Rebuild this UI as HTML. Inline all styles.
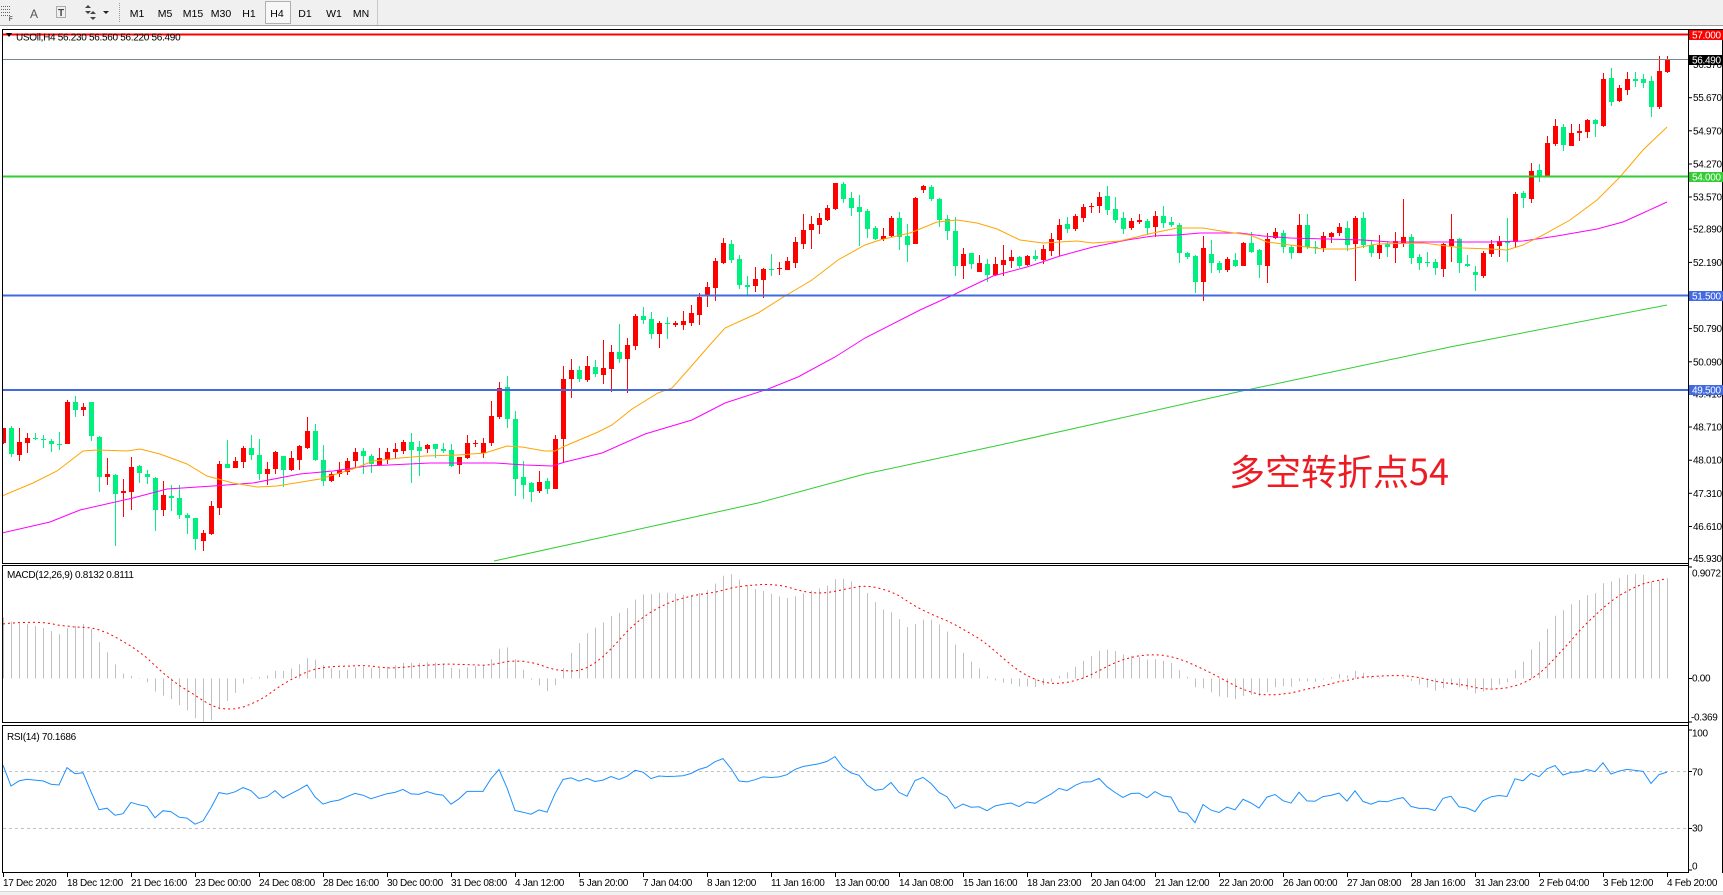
<!DOCTYPE html>
<html><head><meta charset="utf-8">
<style>
html,body{margin:0;padding:0;background:#fff;width:1723px;height:895px;overflow:hidden}
svg{display:block}
text{font-family:"Liberation Sans",Arial,sans-serif;font-size:10px;fill:#000}
.a{letter-spacing:-0.3px}
.w{fill:#fff;letter-spacing:-0.3px}
.tb{font-size:10.5px;text-anchor:middle}
</style></head><body>
<svg id="s" width="1723" height="895" viewBox="0 0 1723 895" xmlns="http://www.w3.org/2000/svg">
<defs>
<clipPath id="cm"><rect x="3" y="30" width="1685" height="533"/></clipPath>
<clipPath id="cd"><rect x="3" y="566" width="1685" height="156"/></clipPath>
<clipPath id="cr"><rect x="3" y="726" width="1685" height="146"/></clipPath>
</defs>
<!-- toolbar -->
<rect x="0" y="0" width="1723" height="25" fill="#f0f0f0"/>
<line x1="0" y1="25.5" x2="1723" y2="25.5" stroke="#a0a0a0"/>
<g stroke="#666" stroke-dasharray="1,1">
<line x1="1" y1="6.5" x2="11" y2="6.5"/><line x1="1" y1="9.5" x2="11" y2="9.5"/><line x1="1" y1="12.5" x2="11" y2="12.5"/><line x1="1" y1="15.5" x2="11" y2="15.5"/>
</g>
<text x="9" y="21" style="font-size:6px">F</text>
<text x="34" y="18" style="font-size:12px;fill:#555;text-anchor:middle">A</text>
<rect x="56.5" y="6.5" width="9" height="11" fill="none" stroke="#666" stroke-dasharray="1,1"/>
<text x="61" y="16" style="font-size:10px;text-anchor:middle;font-weight:bold;fill:#444">T</text>
<polygon points="85,8 88,5 91,8" fill="#444"/><polygon points="85,11 88,14 91,11" fill="#444"/>
<polygon points="90,14 93,11 96,14" fill="#444"/><polygon points="90,17 93,20 96,17" fill="#444"/>
<polygon points="103,11 109,11 106,14" fill="#222"/>
<line x1="119.5" y1="3" x2="119.5" y2="22" stroke="#999" stroke-dasharray="1,1"/>
<rect x="265.5" y="1.5" width="25" height="22" fill="#f7f7f7" stroke="#b0b0b0"/>
<text class="tb" x="137" y="17">M1</text>
<text class="tb" x="165" y="17">M5</text>
<text class="tb" x="193" y="17">M15</text>
<text class="tb" x="221" y="17">M30</text>
<text class="tb" x="249" y="17">H1</text>
<text class="tb" x="277" y="17">H4</text>
<text class="tb" x="305" y="17">D1</text>
<text class="tb" x="334" y="17">W1</text>
<text class="tb" x="361" y="17">MN</text>
<line x1="377.5" y1="0" x2="377.5" y2="25" stroke="#c8c8c8"/>

<!-- panel frames -->
<rect x="2.5" y="29.5" width="1686" height="534" fill="none" stroke="#000"/>
<rect x="2.5" y="565.5" width="1686" height="157" fill="none" stroke="#000"/>
<rect x="2.5" y="725.5" width="1686" height="147" fill="none" stroke="#000"/>
<line x1="1688.5" y1="29" x2="1688.5" y2="873" stroke="#000"/>
<line x1="1688" y1="29.5" x2="1723" y2="29.5" stroke="#000"/>
<line x1="1722.5" y1="29" x2="1722.5" y2="873" stroke="#000"/>

<g id="main" clip-path="url(#cm)"></g>
<g id="macd" clip-path="url(#cd)"></g>
<g id="rsi" clip-path="url(#cr)">
<line x1="3" y1="771.5" x2="1688" y2="771.5" stroke="#c0c0c0" stroke-dasharray="3,3"/>
<line x1="3" y1="828.5" x2="1688" y2="828.5" stroke="#c0c0c0" stroke-dasharray="3,3"/>
</g>

<!-- horizontal lines -->
<line x1="3" y1="34.5" x2="1688" y2="34.5" stroke="#ff0000" stroke-width="2"/>
<line x1="3" y1="59.5" x2="1688" y2="59.5" stroke="#778899" stroke-width="1"/>
<line x1="3" y1="176.5" x2="1688" y2="176.5" stroke="#32cd32" stroke-width="2"/>
<line x1="3" y1="295.5" x2="1688" y2="295.5" stroke="#4169e1" stroke-width="2"/>
<line x1="3" y1="390" x2="1688" y2="390" stroke="#4169e1" stroke-width="2"/>

<!-- titles -->
<polygon points="6,33 12,33 9,37" fill="#000"/>
<text class="a" x="16" y="40.5">USOil,H4  56.230 56.560 56.220 56.490</text>
<text class="a" x="7" y="578">MACD(12,26,9) 0.8132 0.8111</text>
<text class="a" x="7" y="740">RSI(14) 70.1686</text>

<text x="1229" y="485" style="font-family:'Noto Sans CJK SC','WenQuanYi Zen Hei',sans-serif;font-size:36px;fill:#ed1c24">多空转折点54</text>

<!-- right axis ticks -->
<g stroke="#000" id="ticks"></g>
<g class="a">
<text class="a" x="1693" y="68">56.370</text>
<text class="a" x="1693" y="101.2">55.670</text>
<text class="a" x="1693" y="134.3">54.970</text>
<text class="a" x="1693" y="167.5">54.270</text>
<text class="a" x="1693" y="200.5">53.570</text>
<text class="a" x="1693" y="232.7">52.890</text>
<text class="a" x="1693" y="265.9">52.190</text>
<text class="a" x="1693" y="332.1">50.790</text>
<text class="a" x="1693" y="365.3">50.090</text>
<text class="a" x="1693" y="397.5">49.410</text>
<text class="a" x="1693" y="430.5">48.710</text>
<text class="a" x="1693" y="463.7">48.010</text>
<text class="a" x="1693" y="496.8">47.310</text>
<text class="a" x="1693" y="530">46.610</text>
<text class="a" x="1693" y="562.2">45.930</text>
<text class="a" x="1692" y="576.5">0.9072</text>
<text class="a" x="1692" y="681.5">0.00</text>
<text class="a" x="1691" y="720.5">-0.369</text>
<text class="a" x="1692" y="736.5">100</text>
<text class="a" x="1692" y="775.5">70</text>
<text class="a" x="1692" y="831.5">30</text>
<text class="a" x="1692" y="869.5">0</text>
</g>
<!-- tags -->
<rect x="1689" y="30" width="34" height="10" fill="#ff0000"/>
<text class="w" x="1692" y="38.5">57.000</text>
<rect x="1689" y="55" width="34" height="10" fill="#000"/>
<text class="w" x="1692" y="63.5">56.490</text>
<rect x="1689" y="172" width="34" height="10" fill="#32cd32"/>
<text class="w" x="1692" y="180.5">54.000</text>
<rect x="1689" y="291" width="34" height="10" fill="#4169e1"/>
<text class="w" x="1692" y="299.5">51.500</text>
<rect x="1689" y="385" width="34" height="10" fill="#4169e1"/>
<text class="w" x="1692" y="393.5">49.500</text>

<!-- x axis -->
<g id="xt" stroke="#000"></g>
<g>
<text class="a" x="3" y="886">17 Dec 2020</text>
<text class="a" x="67" y="886">18 Dec 12:00</text>
<text class="a" x="131" y="886">21 Dec 16:00</text>
<text class="a" x="195" y="886">23 Dec 00:00</text>
<text class="a" x="259" y="886">24 Dec 08:00</text>
<text class="a" x="323" y="886">28 Dec 16:00</text>
<text class="a" x="387" y="886">30 Dec 00:00</text>
<text class="a" x="451" y="886">31 Dec 08:00</text>
<text class="a" x="515" y="886">4 Jan 12:00</text>
<text class="a" x="579" y="886">5 Jan 20:00</text>
<text class="a" x="643" y="886">7 Jan 04:00</text>
<text class="a" x="707" y="886">8 Jan 12:00</text>
<text class="a" x="771" y="886">11 Jan 16:00</text>
<text class="a" x="835" y="886">13 Jan 00:00</text>
<text class="a" x="899" y="886">14 Jan 08:00</text>
<text class="a" x="963" y="886">15 Jan 16:00</text>
<text class="a" x="1027" y="886">18 Jan 23:00</text>
<text class="a" x="1091" y="886">20 Jan 04:00</text>
<text class="a" x="1155" y="886">21 Jan 12:00</text>
<text class="a" x="1219" y="886">22 Jan 20:00</text>
<text class="a" x="1283" y="886">26 Jan 00:00</text>
<text class="a" x="1347" y="886">27 Jan 08:00</text>
<text class="a" x="1411" y="886">28 Jan 16:00</text>
<text class="a" x="1475" y="886">31 Jan 23:00</text>
<text class="a" x="1539" y="886">2 Feb 04:00</text>
<text class="a" x="1603" y="886">3 Feb 12:00</text>
<text class="a" x="1667" y="886">4 Feb 20:00</text>
</g>
<rect x="0" y="892" width="1723" height="3" fill="#f0f0f0"/>
<line x1="0" y1="891.5" x2="1723" y2="891.5" stroke="#d8d8d8"/>
</svg>
<script>
(function(){
var NS="http://www.w3.org/2000/svg";
function el(p,t,a){var e=document.createElementNS(NS,t);for(var k in a)e.setAttribute(k,a[k]);p.appendChild(e);return e;}
var D=[
[1,428,443,428,444],[0,428,454,426,457],[1,442,455,428,461],[1,438,443,433,453],[0,438,439,433,440],[0,439,440,435,448],[0,441,444,439,452],[0,444,445,432,450],[1,402,444,400,444],[0,402,410,396,417],
[1,407,410,403,416],[0,402,436,402,441],[0,437,477,436,492],[1,474,477,458,485],[0,475,494,474,546],[1,491,493,479,517],[1,467,492,457,510],[0,466,473,465,483],[0,474,477,470,484],[0,478,510,477,531],
[1,495,510,481,516],[0,496,498,485,511],[0,498,515,485,519],[0,515,518,513,534],[0,518,539,518,550],[1,533,541,530,551],[1,506,534,501,535],[1,464,508,461,515],[0,464,468,440,468],[1,461,468,457,468],
[1,448,462,446,468],[0,448,455,435,460],[0,455,474,439,480],[1,469,474,462,485],[1,452,469,451,474],[0,456,470,456,487],[1,458,470,451,471],[1,446,460,445,470],[1,431,448,417,449],[0,431,460,424,461],
[0,460,481,445,486],[1,474,481,472,482],[1,470,474,462,477],[1,461,472,458,475],[1,452,461,448,468],[0,451,456,448,474],[0,456,464,454,473],[1,458,465,448,466],[1,452,460,448,464],[1,449,452,443,458],
[1,442,451,440,454],[0,442,450,433,483],[0,447,451,441,476],[1,445,449,444,453],
[0,444,449,444,458],[0,449,451,443,453],[0,450,466,444,467],[1,457,465,457,474],[1,443,458,435,459],[1,443,444,440,447],
[1,443,453,438,458],[1,416,443,401,446],[1,388,417,382,419],[0,387,419,376,428],[0,419,479,411,496],[0,477,485,461,499],[0,483,492,482,502],[1,482,491,471,493],[0,481,489,478,494],[1,439,489,435,489],
[1,379,439,366,463],[1,370,379,359,398],[0,370,379,366,382],[1,366,380,356,382],[0,367,374,360,377],[1,368,375,340,384],[1,352,369,345,392],[0,352,359,324,363],[1,345,359,338,393],[1,316,346,314,350],
[0,316,320,307,324],[0,319,334,312,339],[1,323,334,321,348],[0,323,324,317,339],[1,323,325,321,327],[1,321,325,311,330],[1,313,323,305,326],[1,297,315,293,325],[1,287,296,282,307],[1,261,288,258,301],
[1,243,263,238,264],[0,244,260,240,263],[0,259,285,255,289],[0,285,287,276,295],[1,279,286,267,292],[1,269,280,268,298],[0,269,270,254,276],[1,268,269,262,275],[1,261,270,257,270],[1,242,263,237,268],
[1,230,244,214,249],[1,224,230,216,249],[1,218,225,213,234],[1,208,220,205,221],[1,183,209,183,210],[0,184,199,182,203],[0,198,208,192,216],[0,207,212,195,246],
[0,211,229,209,238],[0,228,239,226,240],[1,236,239,228,241],[1,218,236,216,237],[0,218,237,212,250],[0,236,245,224,262],[1,198,244,197,244],[1,186,190,185,193],[0,187,199,185,201],[0,199,220,198,227],
[0,219,231,215,240],[0,231,266,217,276],[1,254,266,248,279],[0,253,264,253,269],[1,263,272,255,272],[0,264,275,259,282],[1,264,275,257,276],[1,260,265,245,276],[1,257,261,250,268],[0,257,266,256,268],
[1,256,265,255,266],[0,256,259,250,261],[1,249,260,245,264],[1,239,251,233,256],[1,225,240,219,256],[0,224,229,217,233],[1,216,229,214,231],[1,207,218,204,222],[1,206,207,203,213],[1,197,206,192,213],
[0,196,210,186,215],[0,209,220,197,223],[0,218,229,212,234],[1,221,228,218,230],[1,220,222,214,224],[0,221,228,219,235],[1,216,227,211,237],[0,216,223,206,228],[0,222,225,217,227],[0,225,253,223,263],
[0,253,257,252,259],[0,256,282,255,293],[1,248,282,236,301],[0,254,263,240,273],[0,263,270,261,273],[1,259,270,257,272],[0,260,266,253,267],[1,243,266,242,266],[0,243,252,232,253],[0,250,265,249,278],
[1,239,266,233,283],[1,232,238,228,239],[0,233,247,230,253],[0,247,253,245,259],
[1,225,253,214,253],[0,225,247,214,249],[0,247,248,241,254],[1,236,248,232,252],[1,233,237,232,243],[1,227,233,223,236],
[0,228,245,221,251],[1,218,244,216,281],[0,218,245,212,248],[0,245,253,240,257],[1,245,253,235,259],[0,244,247,241,257],[1,241,248,232,263],[1,237,243,199,247],[0,237,258,234,264],[0,257,263,254,270],
[0,262,263,252,267],[0,262,268,259,275],[1,244,269,243,277],[1,239,246,214,262],[0,239,263,238,273],[0,264,266,255,267],[0,272,275,266,291],[1,253,276,251,278],[1,244,254,240,257],[1,241,246,236,257],
[0,241,243,218,262],[1,194,242,192,248],[0,193,198,191,208],[1,171,199,163,203],[0,170,177,164,182],[1,143,177,136,177],[1,126,144,119,146],[0,127,145,124,151],[1,133,146,124,146],[1,131,133,124,141],
[1,120,132,119,138],[0,120,124,119,137],[1,79,126,73,127],[0,78,102,68,106],[1,88,101,85,102],[1,79,90,72,95],[0,79,81,72,87],[0,79,83,74,88],[0,81,107,76,117],[1,71,107,56,109],
[1,59,72,56,73]
];
var X=function(i){return 3+8*i;};
var m=document.getElementById('main');
// MAs
function pl(g,pts,col,extra){var a={points:pts,fill:'none',stroke:col,'stroke-width':1};for(var k in extra)a[k]=extra[k];el(g,'polyline',a);}
var mg=document.createElementNS(NS,'g');
// candles
for(var i=0;i<D.length;i++){
 var d=D[i],x=X(i),c=d[0]?'#ff0000':'#00f080';
 el(m,'rect',{x:x,y:d[3],width:1,height:Math.max(1,d[4]-d[3]),fill:c});
 el(m,'rect',{x:x-2,y:d[1],width:5,height:Math.max(1,d[2]-d[1]),fill:c});
}
pl(m,"494,561 658,525 758,503 865,474 1000,445 1242,391 1450,347 1667,305",'#32cd32');
pl(m,"2,533 50,522 80,510 133,498 167,489 213,486 253,483 300,474 333,471 367,466 430,463 495,463 525,465 552,466 565,462 602,453 645,434 692,420 725,403 768,389 798,377 835,357 865,338 920,310 953,295 993,276 1027,267 1060,256 1093,247 1127,240 1153,236 1177,235 1200,233 1240,233 1263,236 1290,238 1363,240 1390,242 1490,242 1523,241 1557,236 1597,229 1623,222 1643,213 1667,202",'#ff00ff');
pl(m,"2,496 33,483 57,471 83,451 97,450 127,451 140,449 160,454 187,464 207,476 233,483 257,487 277,486 320,479 353,469 373,461 400,458 425,456 458,455 485,453 507,446 522,447 545,451 555,451 565,446 598,432 612,425 632,409 658,393 672,388 688,370 708,347 725,328 758,313 785,296 812,280 838,260 865,245 880,240 910,233 937,222 957,220 977,223 997,229 1020,240 1043,243 1077,241 1093,243 1120,241 1153,233 1177,228 1203,228 1227,232 1250,235 1267,242 1290,245 1323,249 1350,249 1377,244 1423,243 1463,248 1490,249 1507,250 1523,245 1543,235 1570,220 1597,200 1620,177 1643,150 1667,127",'#ffa500');
// indicators
var P=function(y){return 54-(y-176.7)/47.33;};
var cl=[];
for(var k=0;k<120;k++){cl.push(45.6+(k>=60?0.000833*(k-60)*(k-60):0)+0.15*Math.sin(k*1.3)+0.1*Math.sin(k*2.7));}
var off=cl.length;
for(var i=0;i<D.length;i++){cl.push(P(D[i][0]?D[i][1]:D[i][2]));}
var e12=cl[0],e26=cl[0],a12=2/13,a26=2/27,mac=[];
for(var k=0;k<cl.length;k++){e12=e12+a12*(cl[k]-e12);e26=e26+a26*(cl[k]-e26);mac.push(e12-e26);}
var sig=[];
for(var k=0;k<cl.length;k++){var s=0,n=0;for(var j=Math.max(0,k-8);j<=k;j++){s+=mac[j];n++;}sig.push(s/n);}
var md=document.getElementById('macd');
var MY=function(v){return 678.5-v*123;};
var sp=[];
for(var i=0;i<D.length;i++){var v=mac[off+i],x=X(i)+0.5;el(md,'line',{x1:x,y1:678.5,x2:x,y2:MY(v).toFixed(1),stroke:'#c0c0c0','stroke-width':1});sp.push(X(i)+','+MY(sig[off+i]).toFixed(1));}
pl(md,sp.join(' '),'#ff0000',{'stroke-dasharray':'2,3'});
// RSI
var ag=0,al=0,rs=[];
for(var k=1;k<cl.length;k++){var ch=cl[k]-cl[k-1],g=ch>0?ch:0,l=ch<0?-ch:0;
 if(k<=14){ag+=g/14;al+=l/14;}else{ag=(ag*13+g)/14;al=(al*13+l)/14;}
 rs[k]=al===0?100:100-100/(1+ag/al);}
var rp=[];
for(var i=0;i<D.length;i++){rp.push(X(i)+','+(870.2-rs[off+i]*1.4075).toFixed(1));}
pl(document.getElementById('rsi'),rp.join(' '),'#1e90ff');
// ticks
var tk=document.getElementById('ticks');
[34,59.5,64.5,97.7,130.8,164,176.5,197,229.2,262.4,295.5,328.6,361.8,390,394,427,460.2,493.3,526.5,558.7,567,678.5,722,730,771.5,828.5,870].forEach(function(y){el(tk,'line',{x1:1688,y1:y,x2:1692,y2:y});});
var xt=document.getElementById('xt');
for(var k=0;k<27;k++){var x=3+64*k+0.5;el(xt,'line',{x1:x,y1:872,x2:x,y2:877});}
})();
</script>
</body></html>
